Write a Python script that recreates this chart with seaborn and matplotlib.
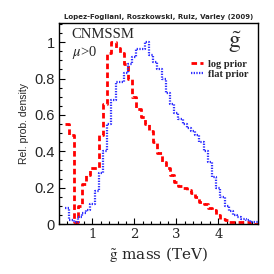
import numpy as np
import pandas as pd
import matplotlib
matplotlib.use("Agg")
import matplotlib.pyplot as plt
from matplotlib.ticker import MultipleLocator
import seaborn as sns

# bin edges (TeV), width 0.1 starting at 0.35
bin_edges = [round(0.35 + 0.1 * i, 2) for i in range(47)]
log_prior = [0.55, 0.49, 0.01, 0.10, 0.22, 0.27, 0.31, 0.31, 0.49, 0.66,
             0.94, 1.00, 0.97, 0.94, 0.88, 0.80, 0.70, 0.63, 0.59, 0.55,
             0.51, 0.45, 0.39, 0.34, 0.31, 0.27, 0.23, 0.21, 0.20, 0.19,
             0.17, 0.15, 0.12, 0.11, 0.09, 0.08, 0.05, 0.03, 0.02, 0.01,
             0.01, 0.01, 0.01, 0.01, 0.0, 0.0]
flat_prior = [0.09, 0.02, 0.01, 0.04, 0.06, 0.08, 0.11, 0.18, 0.28, 0.40,
              0.55, 0.68, 0.78, 0.78, 0.83, 0.88, 0.92, 0.96, 0.96, 1.00,
              0.93, 0.89, 0.85, 0.80, 0.72, 0.66, 0.61, 0.58, 0.55, 0.53,
              0.51, 0.49, 0.45, 0.40, 0.34, 0.26, 0.20, 0.15, 0.10, 0.07,
              0.05, 0.04, 0.03, 0.02, 0.01, 0.01]
x_ticks = [1, 2, 3, 4]
y_ticks = [0, 0.2, 0.4, 0.6, 0.8, 1]
y_ticklabels = ["0", "0.2", "0.4", "0.6", "0.8", "1"]

centers = [(bin_edges[i] + bin_edges[i + 1]) / 2 for i in range(len(bin_edges) - 1)]
df = pd.DataFrame({
    "mass": centers * 2,
    "density": log_prior + flat_prior,
    "prior": ["log prior"] * len(centers) + ["flat prior"] * len(centers),
})

sns.set_style("ticks")
plt.rcParams["mathtext.fontset"] = "stix"

fig = plt.figure(figsize=(2.74, 2.74), dpi=100)
ax = fig.add_axes([0.215, 0.182, 0.727, 0.734])

sns.histplot(data=df[df.prior == "log prior"], x="mass", weights="density",
             bins=bin_edges, element="step", fill=False, ax=ax,
             color="#ff0000", linewidth=2.0, linestyle=(0, (2, 1.2)),
             label="log prior")
sns.histplot(data=df[df.prior == "flat prior"], x="mass", weights="density",
             bins=bin_edges, element="step", fill=False, ax=ax,
             color="#3030ff", linewidth=1.6, linestyle=(0, (0.6, 0.6)),
             label="flat prior")

ax.set_xlim(0.2, 4.95)
ax.set_ylim(0, 1.105)
ax.set_xticks(x_ticks)
ax.set_xticklabels([str(t) for t in x_ticks], family="DejaVu Serif", fontsize=9.5)
ax.set_yticks(y_ticks)
ax.set_yticklabels(y_ticklabels, family="Liberation Sans", fontsize=10.5)
ax.xaxis.set_minor_locator(MultipleLocator(0.2))
ax.yaxis.set_minor_locator(MultipleLocator(0.05))
ax.tick_params(which="both", direction="in", top=False, right=False, color="black", width=0.8, pad=3)
ax.tick_params(which="major", length=4.5)
ax.tick_params(which="minor", length=2.5)
for s in ax.spines.values():
    s.set_visible(True)
    s.set_linewidth(1.0)
    s.set_color("black")

ax.set_ylabel("Rel. prob. density", family="Liberation Sans", fontsize=7.5, labelpad=4)
ax.set_xlabel(r"$\tilde{\mathrm{g}}$ mass (TeV)", family="DejaVu Serif", fontsize=11, labelpad=3)
ax.set_title("Lopez-Fogliani, Roszkowski, Ruiz, Varley (2009)", family="DejaVu Sans",
             fontsize=5, fontweight="bold", pad=3)

ax.text(0.065, 0.975, "CNMSSM", transform=ax.transAxes, family="Liberation Serif",
        fontsize=10.5, va="top", ha="left")
ax.text(0.065, 0.895, r"$\mu$>0", transform=ax.transAxes, family="Liberation Serif",
        fontsize=10.5, va="top", ha="left")
ax.text(0.885, 0.905, r"$\tilde{\mathrm{g}}$", transform=ax.transAxes,
        fontsize=17, va="center", ha="center")

leg = ax.legend(loc="upper right", bbox_to_anchor=(0.985, 0.85), frameon=False,
                prop={"family": "Liberation Serif", "size": 7.5, "weight": "bold"},
                handlelength=1.2, handletextpad=0.5, labelspacing=0.1, borderaxespad=0.2)

fig.savefig("out.png", dpi=100)
